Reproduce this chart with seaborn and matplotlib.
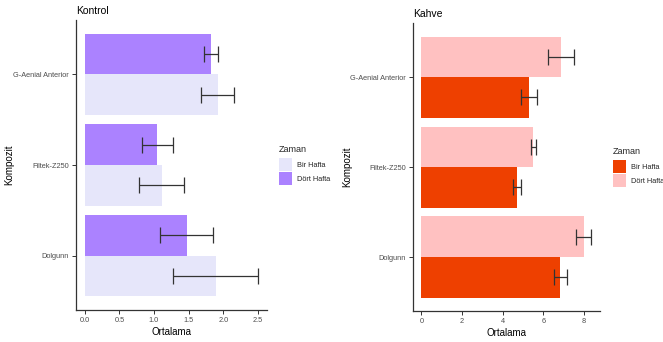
import matplotlib
matplotlib.use("Agg")
import matplotlib.pyplot as plt
import seaborn as sns
import pandas as pd
from matplotlib.patches import Patch

# ---- data ----
categories = ["G-Aenial Anterior", "Filtek-Z250", "Dolgunn"]
time_levels = ["Bir Hafta", "Dört Hafta"]

kontrol_bir = [1.92, 1.11, 1.89]
kontrol_bir_sd = [0.24, 0.32, 0.61]
kontrol_dort = [1.82, 1.05, 1.47]
kontrol_dort_sd = [0.105, 0.23, 0.385]

kahve_bir = [5.27, 4.70, 6.83]
kahve_bir_sd = [0.39, 0.20, 0.31]
kahve_dort = [6.88, 5.50, 7.98]
kahve_dort_sd = [0.64, 0.13, 0.36]

kontrol_ticks = [0.0, 0.5, 1.0, 1.5, 2.0, 2.5]
kontrol_ticklabels = ["0.0", "0.5", "1.0", "1.5", "2.0", "2.5"]
kahve_ticks = [0, 2, 4, 6, 8]
kahve_ticklabels = ["0", "2", "4", "6", "8"]

kontrol_colors = {"Bir Hafta": "#E6E6FA", "Dört Hafta": "#AB82FF"}
kahve_colors = {"Bir Hafta": "#EE4000", "Dört Hafta": "#FFC1C1"}


def make_df(bir, bir_sd, dort, dort_sd):
    rows = []
    for c, v, s in zip(categories, bir, bir_sd):
        rows.append({"Kompozit": c, "Zaman": "Bir Hafta", "Ortalama": v, "sd": s})
    for c, v, s in zip(categories, dort, dort_sd):
        rows.append({"Kompozit": c, "Zaman": "Dört Hafta", "Ortalama": v, "sd": s})
    return pd.DataFrame(rows)


sns.set_theme(style="white")
plt.rcParams["font.family"] = ["Liberation Sans", "DejaVu Sans"]

W, H = 663, 342
fig = plt.figure(figsize=(W / 100, H / 100), dpi=100)

TICK_COLOR = "#4D4D4D"
AX_COLOR = "#333333"


def panel(rect, df, colors, title, ticks, ticklabels, xlim, legend_pos, ylab_x):
    ax = fig.add_axes(rect)
    plot_order = ["Dört Hafta", "Bir Hafta"]
    sns.barplot(data=df, y="Kompozit", x="Ortalama", hue="Zaman",
                order=categories, hue_order=plot_order,
                palette=colors, saturation=1, width=0.9, gap=0, errorbar=None,
                linewidth=0, orient="h", ax=ax, legend=False)
    # error bars from bar geometry
    for cont, lvl in zip(ax.containers, plot_order):
        sub = df[df["Zaman"] == lvl].set_index("Kompozit").loc[categories]
        ys = [p.get_y() + p.get_height() / 2 for p in cont.patches]
        ax.errorbar(sub["Ortalama"].values, ys, xerr=sub["sd"].values,
                    fmt="none", ecolor=AX_COLOR, elinewidth=0.9,
                    capsize=5.5, capthick=0.9, zorder=5)
    ax.set_ylim(2.6, -0.6)
    ax.set_xlim(*xlim)
    ax.set_xticks(ticks)
    ax.set_xticklabels(ticklabels)
    for s in ["top", "right"]:
        ax.spines[s].set_visible(False)
    for s in ["left", "bottom"]:
        ax.spines[s].set_color(AX_COLOR)
        ax.spines[s].set_linewidth(0.9)
    ax.tick_params(axis="both", length=3, width=0.7, color=AX_COLOR,
                   labelsize=5.3, labelcolor=TICK_COLOR, pad=2,
                   left=True, bottom=True)
    ax.set_xlabel("Ortalama", fontsize=7, color="black", labelpad=2)
    ax.set_ylabel("Kompozit", fontsize=7, color="black")
    ax.yaxis.set_label_coords(ylab_x, 0.5)
    ax.set_title(title, loc="left", fontsize=7.5, color="black", pad=4)
    handles = [Patch(facecolor=colors[l], edgecolor="none", label=l)
               for l in time_levels]
    leg = fig.legend(handles=handles, title="Zaman", loc="upper left",
                     bbox_to_anchor=legend_pos, frameon=False,
                     fontsize=5.3, title_fontsize=6.5,
                     handlelength=1.8, handleheight=2.4,
                     handletextpad=0.65, labelspacing=0.1,
                     borderaxespad=0, borderpad=0)
    leg._legend_box.align = "left"
    leg._legend_box.sep = 3
    return ax


panel([76 / W, 1 - 310 / H, 191 / W, 290 / H],
      make_df(kontrol_bir, kontrol_bir_sd, kontrol_dort, kontrol_dort_sd),
      kontrol_colors, "Kontrol", kontrol_ticks, kontrol_ticklabels,
      (-0.125, 2.63), (279 / W, 1 - 145 / H), -0.325)

panel([413 / W, 1 - 311 / H, 187 / W, 288 / H],
      make_df(kahve_bir, kahve_bir_sd, kahve_dort, kahve_dort_sd),
      kahve_colors, "Kahve", kahve_ticks, kahve_ticklabels,
      (-0.418, 8.78), (613 / W, 1 - 147 / H), -0.326)

fig.savefig("out.png", dpi=100, facecolor="white")
